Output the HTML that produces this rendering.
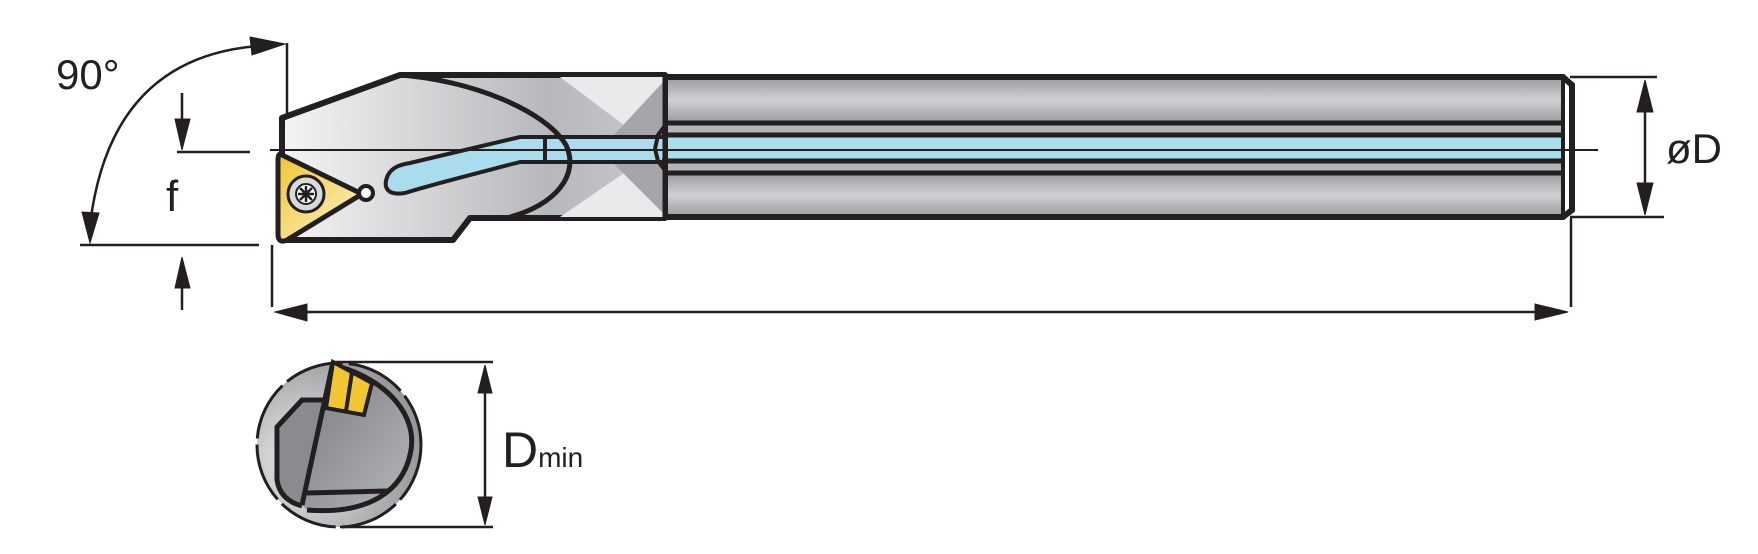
<!DOCTYPE html>
<html><head><meta charset="utf-8"><style>html,body{margin:0;padding:0;background:#fff}svg{display:block}</style></head>
<body>
<svg width="1758" height="554" viewBox="0 0 1758 554" xmlns="http://www.w3.org/2000/svg" font-family="Liberation Sans, sans-serif">
<defs>
<linearGradient id="head" x1="0" y1="0" x2="1" y2="0"><stop offset="0" stop-color="#f4f4f5"/><stop offset="0.7" stop-color="#b7b8bb"/><stop offset="1" stop-color="#c9cacc"/></linearGradient>
<linearGradient id="band" x1="0" y1="0" x2="0" y2="1"><stop offset="0" stop-color="#9a9b9e"/><stop offset="0.5" stop-color="#cfd0d2"/><stop offset="1" stop-color="#9a9b9e"/></linearGradient>
<linearGradient id="ins" x1="0" y1="0" x2="1" y2="1"><stop offset="0" stop-color="#f1c632"/><stop offset="1" stop-color="#fbf2cf"/></linearGradient>
<radialGradient id="end" cx="0.3" cy="0.6" r="0.8"><stop offset="0" stop-color="#f0f0f1"/><stop offset="1" stop-color="#8a8b8e"/></radialGradient>
<linearGradient id="endin" x1="0" y1="0" x2="1" y2="1"><stop offset="0" stop-color="#7a7b7e"/><stop offset="1" stop-color="#b5b6b9"/></linearGradient>
</defs>
<g stroke="#231f20" fill="none">
<rect x="665" y="77" width="898" height="46" fill="url(#band)" stroke="none"/>
<rect x="665" y="173" width="898" height="44" fill="url(#band)" stroke="none"/>
<rect x="665" y="123" width="898" height="50" fill="#b3b4b7" stroke="none"/>
<rect x="540" y="137" width="1023" height="23" fill="#a9dcec" stroke="none"/>
<path d="M282,152 L282,118 L400,75 L665,75 L665,218 L470,218 L453,240 L283,240 Z" fill="url(#head)" stroke-width="6" stroke-linejoin="round"/>
<path d="M560,77 L665,77 L665,137 L640,137 Z" fill="#e9eaeb" stroke="none"/>
<path d="M560,217 L665,217 L665,162 L640,162 Z" fill="#e9eaeb" stroke="none"/>
<path d="M665,80 L612,137 L665,137 Z M665,215 L612,162 L665,162 Z" fill="#a4a5a8" stroke="none"/>
<rect x="540" y="137" width="125" height="23" fill="#a9dcec" stroke="none"/>
<path d="M400,75 C470,80 545,110 566,145 C580,175 555,205 510,217" stroke-width="5"/>
<path d="M388,175 C392,168 398,165 410,163 L520,137 L545,137 L545,162 L520,162 C470,175 430,185 405,193 C388,196 382,188 388,175 Z" fill="#a9dcec" stroke-width="4"/>
<line x1="545" y1="137" x2="545" y2="162" stroke-width="3"/>
<path d="M545,137 L665,137 M545,162 L665,162" stroke-width="4"/>
<path d="M665,77 L1563,77 L1572,85 L1572,210 L1563,217 L665,217" stroke-width="6"/>
<line x1="665" y1="77" x2="665" y2="217" stroke-width="5"/>
<line x1="1563" y1="77" x2="1563" y2="217" stroke-width="4"/>
<path d="M665,123 L1563,123 M665,173 L1563,173" stroke-width="5"/>
<path d="M662,135 L1565,135 M662,161 L1565,161" stroke-width="5"/>
<path d="M667,123 L658,135 L655,149 L658,161 L667,173" stroke-width="4"/>
<line x1="270" y1="150" x2="1598" y2="150" stroke-width="2"/>
<path d="M282,155 L362,194 L287,240 Q278,244 278,234 L278,160 Q278,152 282,155 Z" fill="url(#ins)" stroke-width="5" stroke-linejoin="round"/>
<circle cx="306" cy="194" r="18" fill="#d8d9db" stroke-width="3"/>
<circle cx="306" cy="194" r="10" fill="#fff" stroke-width="2"/>
<path d="M306,186 V202 M298,194 H314 M300,188 L312,200 M312,188 L300,200" stroke-width="2.5"/>
<circle cx="366" cy="193" r="7" fill="#fff" stroke-width="4"/>
<line x1="287" y1="43" x2="287" y2="118" stroke-width="2.5"/>
<path d="M90,225 Q110,58 258,46" stroke-width="2.5"/>
<path d="M285,44 L250,37 L252,55 Z" fill="#231f20"/>
<path d="M90,243 L82,212 L99,213 Z" fill="#231f20"/>
<line x1="177" y1="152" x2="250" y2="152" stroke-width="2.5"/>
<line x1="80" y1="245" x2="259" y2="245" stroke-width="2.5"/>
<line x1="182" y1="93" x2="182" y2="125" stroke-width="2.5"/>
<path d="M182,150 L175,119 L190,119 Z" fill="#231f20"/>
<line x1="182" y1="285" x2="182" y2="310" stroke-width="2.5"/>
<path d="M182,257 L175,288 L190,288 Z" fill="#231f20"/>
<line x1="272" y1="245" x2="272" y2="307" stroke-width="2.5"/>
<line x1="300" y1="312" x2="1545" y2="312" stroke-width="2.5"/>
<path d="M275,312 L307,304 L307,321 Z" fill="#231f20"/>
<path d="M1568,312 L1535,304 L1535,320 Z" fill="#231f20"/>
<line x1="1570" y1="77" x2="1657" y2="77" stroke-width="2.5"/>
<line x1="1570" y1="217" x2="1664" y2="217" stroke-width="2.5"/>
<line x1="1571" y1="218" x2="1571" y2="307" stroke-width="2.5"/>
<line x1="1645" y1="100" x2="1645" y2="195" stroke-width="2.5"/>
<path d="M1645,80 L1637,112 L1653,112 Z" fill="#231f20"/>
<path d="M1645,215 L1637,183 L1653,183 Z" fill="#231f20"/>
<!-- end view -->
<circle cx="339" cy="445" r="82" fill="url(#end)" stroke-width="3" stroke-dasharray="60 6"/>
<path d="M333,362 C380,372 420,410 410,450 C402,490 370,515 307,510 L302,505 Z" fill="url(#endin)" stroke="none"/>
<path d="M325,400 L302,400 L277,427 L277,480 Q280,500 302,506 Z" fill="#8a8b8e" stroke="none"/>
<path d="M340,367 C385,380 420,415 410,455 C402,490 370,515 307,510" stroke-width="5"/>
<path d="M333,362 L302,505" stroke-width="5"/>
<path d="M325,400 L302,400 L277,427 L277,480 Q280,500 302,506" stroke-width="5"/>
<line x1="307" y1="493" x2="387" y2="491" stroke-width="5"/>
<path d="M333,362 L372,383 L364,415 L326,408 Z" fill="#f1c632" stroke-width="4"/>
<line x1="352" y1="372" x2="346" y2="411" stroke-width="4"/>
<line x1="335" y1="362" x2="493" y2="362" stroke-width="2.5"/>
<line x1="340" y1="527" x2="493" y2="527" stroke-width="2.5"/>
<line x1="485" y1="390" x2="485" y2="500" stroke-width="2.5"/>
<path d="M485,365 L478,393 L492,393 Z" fill="#231f20"/>
<path d="M485,525 L478,497 L492,497 Z" fill="#231f20"/>
</g>
<g fill="#231f20">
<text x="56" y="89" font-size="42">90°</text>
<text x="166" y="211" font-size="44">f</text>
<text x="1666" y="163" font-size="42">øD</text>
<text x="502" y="467" font-size="50">D<tspan font-size="28">min</tspan></text>
</g>
</svg>
</body></html>
